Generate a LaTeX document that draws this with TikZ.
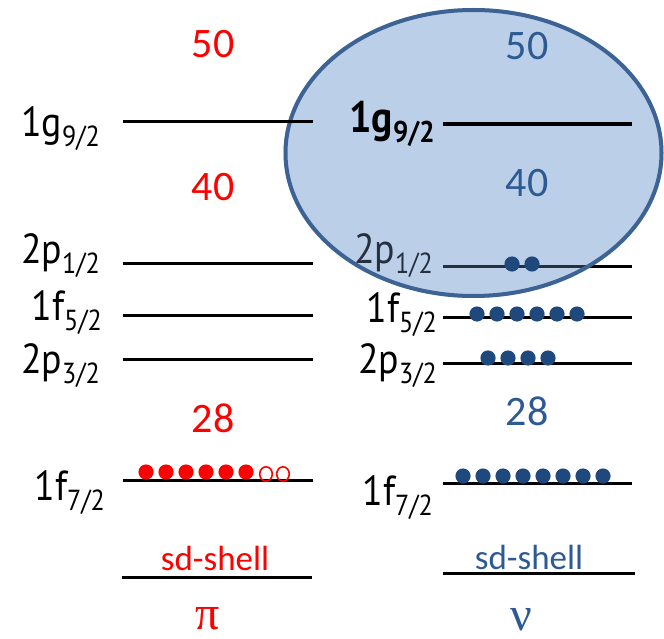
\documentclass[tikz,border=0pt]{standalone}
\usepackage{fontspec}
\usetikzlibrary{shapes.geometric}
\setmainfont{Carlito}
\newfontfamily\labfont{PT Sans}
\newfontfamily\grkfont{Liberation Serif}
\definecolor{nred}{HTML}{FF0000}
\definecolor{nblue}{HTML}{2E5A94}
\definecolor{dotblue}{HTML}{1F497D}
\definecolor{ellfill}{HTML}{A2BDE0}
\definecolor{ellline}{HTML}{3D6394}
\definecolor{dimtext}{HTML}{25303F}
\newcommand{\orb}[3]{\scalebox{0.9}[1]{\labfont\fontsize{42}{42}\selectfont #1#2\raisebox{-10pt}{\fontsize{29}{29}\selectfont #3}}}
\newcommand{\orbb}[3]{\scalebox{0.9}[1]{\labfont\bfseries\fontsize{44}{44}\selectfont #1#2\raisebox{-10pt}{\fontsize{30}{30}\selectfont #3}}}
\begin{document}
\begin{tikzpicture}[x=1pt,y=-1pt,
  level/.style={line width=3pt},
  orblab/.style={anchor=base east, inner sep=0pt},
  magic/.style={anchor=base, inner sep=0pt, font=\fontsize{42}{42}\selectfont},
  shell/.style={anchor=base, inner sep=0pt, font=\fontsize{35}{35}\selectfont},
  greek/.style={anchor=base, inner sep=0pt, text depth=0pt, text height=20pt, font=\grkfont\fontsize{48}{48}\selectfont},
  rdot/.style={fill=nred, draw=none},
  bdot/.style={fill=dotblue, draw=none}]
\useasboundingbox (0,0) rectangle (664,639);

% left (proton) levels
\coordinate (Lg1) at (123,122); \coordinate (Lg2) at (313,122);
\coordinate (Lp11) at (123,263); \coordinate (Lp12) at (313,263);
\coordinate (Lf51) at (123,315); \coordinate (Lf52) at (313,315);
\coordinate (Lp31) at (123,359); \coordinate (Lp32) at (313,359);
\coordinate (Lf71) at (123,480); \coordinate (Lf72) at (313,480);
\coordinate (Lsd1) at (122,577); \coordinate (Lsd2) at (312,577);
\draw[level] (Lp11) -- (Lp12);
\draw[level] (Lf51) -- (Lf52);
\draw[level] (Lp31) -- (Lp32);
\draw[level] (Lf71) -- (Lf72);
\draw[level] (Lsd1) -- (Lsd2);

% right (neutron) levels
\coordinate (Rp11) at (443,266); \coordinate (Rp12) at (632,266);
\coordinate (Rf51) at (443,317); \coordinate (Rf52) at (632,317);
\coordinate (Rp31) at (443,363); \coordinate (Rp32) at (632,363);
\coordinate (Rf71) at (443,483); \coordinate (Rf72) at (632,483);
\coordinate (Rsd1) at (443,573); \coordinate (Rsd2) at (635,573);
\draw[level] (Rf51) -- (Rf52);
\draw[level] (Rp31) -- (Rp32);
\draw[level] (Rf71) -- (Rf72);
\draw[level] (Rsd1) -- (Rsd2);

% left labels
\node[orblab] (lg) at (100,137) {\orb{1}{g}{9/2}};
\node[orblab] (lp1) at (100,263) {\orb{2}{p}{1/2}};
\node[orblab] (lf5) at (102,320) {\orb{1}{f}{5/2}};
\node[orblab] (lp3) at (100,373) {\orb{2}{p}{3/2}};
\node[orblab] (lf7) at (105,500) {\orb{1}{f}{7/2}};

% right labels below ellipse
\node[orblab] (rf5) at (437,322) {\orb{1}{f}{5/2}};
\node[orblab] (rp3) at (437,373) {\orb{2}{p}{3/2}};
\node[orblab] (rf7) at (433,505) {\orb{1}{f}{7/2}};

% ellipse fill
\node[ellipse, fill=ellfill, fill opacity=0.72, draw=none,
  minimum width=380pt, minimum height=290pt, inner sep=0pt] (ell) at (473.5,153) {};
% level seen through the ellipse
\draw[level] (Rp11) -- (Rp12);
\draw[level, dimtext] (Rp11) -- (590,266);
\node[orblab, text=dimtext] (rp1) at (433,263) {\orb{2}{p}{1/2}};
% ellipse border
\draw[ellline, line width=4pt] (ell.center) ellipse (188 and 143);

\draw[level] (Lg1) -- (Lg2);
\coordinate (Rg1) at (443,124); \coordinate (Rg2) at (632,124);
\draw[line width=4.5pt] (Rg1) -- (Rg2);
\node[orblab] (rg) at (435,133) {\orbb{1}{g}{9/2}};

% magic numbers
\node[magic, text=nred] (l50) at (213,58) {50};
\node[magic, text=nred] (l40) at (213,201) {40};
\node[magic, text=nred] (l28) at (213,432) {28};
\node[magic, text=nblue] (r50) at (527,60) {50};
\node[magic, text=nblue] (r40) at (527,197) {40};
\node[magic, text=nblue] (r28) at (527,425) {28};

% sd-shell
\node[shell, text=nred] (lsd) at (215,570) {sd-shell};
\node[shell, text=nblue] (rsd) at (529,569) {sd-shell};

% pi and nu
\node[greek, text=nred] (pi) at (208,629) {π};
\node[greek, text=nblue] (nu) at (521,630) {ν};

% proton occupation
\foreach \i in {0,...,5} \fill[rdot] (146+20*\i,472) circle (7.6);
\draw[nred, line width=1.6pt] (266,474) ellipse (6.3 and 7.2);
\draw[nred, line width=1.6pt] (283,474) ellipse (6.3 and 7.2);

% neutron occupation
\foreach \i in {0,...,7} \fill[bdot] (463+20*\i,476) circle (7.6);
\foreach \i in {0,...,5} \fill[bdot] (477+20*\i,314) circle (7.6);
\foreach \i in {0,...,3} \fill[bdot] (488+20*\i,358) circle (7.6);
\foreach \i in {0,...,1} \fill[bdot] (512+20*\i,264) circle (7.6);
\end{tikzpicture}
\end{document}
